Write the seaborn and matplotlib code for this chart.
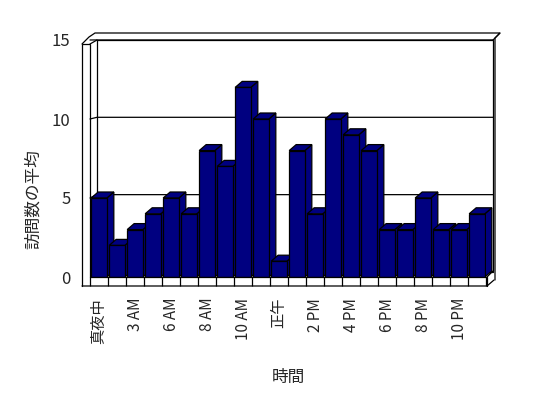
import matplotlib
matplotlib.use("Agg")
import matplotlib.pyplot as plt
from matplotlib.patches import Polygon
import seaborn as sns
import pandas as pd

hours = ["0", "1", "3", "4", "6", "7", "8", "9", "10", "11", "12", "13",
         "14", "15", "16", "17", "18", "19", "20", "21", "22", "23"]
visits = [5, 2, 3, 4, 5, 4, 8, 7, 12, 10, 1, 8, 4, 10, 9, 8, 3, 3, 5, 3, 3, 4]
tick_labels = ["真夜中", "", "3 AM", "", "6 AM", "", "8 AM", "", "10 AM", "",
               "正午", "", "2 PM", "", "4 PM", "", "6 PM", "", "8 PM", "",
               "10 PM", ""]
yticks = [0, 5, 10, 15]

sns.set_style("white")
plt.rcParams['font.family'] = ['Noto Sans CJK JP', 'DejaVu Sans']

NAVY = "#000080"
LW = 0.9
W, H = 548, 398

df = pd.DataFrame({"hour": hours, "visits": visits})

fig = plt.figure(figsize=(W / 100, H / 100), dpi=100)
ax = fig.add_axes([90 / W, 1 - 277 / H, 396 / W, 237 / H])
sns.barplot(data=df, x="hour", y="visits", order=hours, color=NAVY,
            saturation=1, width=0.87, edgecolor="black", linewidth=LW, ax=ax,
            zorder=5)
ax.set_xlim(-0.5, len(hours) - 0.5)
ax.set_ylim(0, 15)
for s in ax.spines.values():
    s.set_visible(False)

fig.canvas.draw()
inv = ax.transData.inverted()


def d(xp, yp):
    # image pixel (from top-left) -> data coords
    return inv.transform((xp, H - yp))


def line(pts, z=1):
    pts = [d(*p) for p in pts]
    ax.plot([p[0] for p in pts], [p[1] for p in pts], color="black", lw=LW,
            zorder=z, clip_on=False, solid_joinstyle="miter")


def ypx(v, scale=15.47, base=272):
    return base - scale * v


# walls and floor outline
line([(97, 272), (97, 40), (493, 40), (493, 271)])
line([(82, 286), (82, 44), (90, 44), (90, 277)], z=6)
line([(82, 44), (89, 37), (95, 33), (500, 33), (495, 38), (495, 280)])
line([(90, 44), (97, 40)])
line([(493, 40), (500, 33)])
line([(82, 286), (487, 286), (494, 280)], z=6)
line([(90, 277), (487, 277), (487, 286)], z=6)
line([(487, 277), (493, 271)], z=1)
line([(97, 272), (493, 272)], z=1)

# grid on back wall + diagonals on left wall
for v in yticks[1:]:
    line([(90, 277 - 15.8 * v), (97, ypx(v)), (493, ypx(v))], z=1)

# divisions on floor strip
y_top = d(0, 277)[1]
y_bot = d(0, 286)[1]
ax.vlines([i + 0.5 for i in range(-1, len(hours))], y_bot, y_top,
          color="black", lw=LW, clip_on=False, zorder=6)

# fake 3D depth for the bars
o = inv.transform(ax.transData.transform((0, 0)) + [7, 6])
dx, dy = o[0], o[1]
for i, p in enumerate(list(ax.patches)):
    x0, w, h = p.get_x(), p.get_width(), p.get_height()
    side = [(x0 + w, 0), (x0 + w + dx, dy), (x0 + w + dx, h + dy), (x0 + w, h)]
    top = [(x0, h), (x0 + dx, h + dy), (x0 + w + dx, h + dy), (x0 + w, h)]
    for pts in (side, top):
        ax.add_patch(Polygon(pts, closed=True, facecolor=NAVY,
                             edgecolor="black", linewidth=LW, clip_on=False,
                             zorder=3 + i * 0.01))

ax.set_yticks(yticks)
ax.set_xticks(range(len(hours)))
ax.set_xticklabels(tick_labels, rotation=90, fontsize=11)
ax.tick_params(axis="x", length=0, pad=15)
ax.tick_params(axis="y", length=0, pad=14, labelsize=12)

ax.set_xlabel("時間", fontsize=12, labelpad=18)
ax.set_ylabel("訪問数の平均", fontsize=12)
ax.yaxis.set_label_coords(-0.122, 0.33)

fig.savefig("out.png", dpi=100)
